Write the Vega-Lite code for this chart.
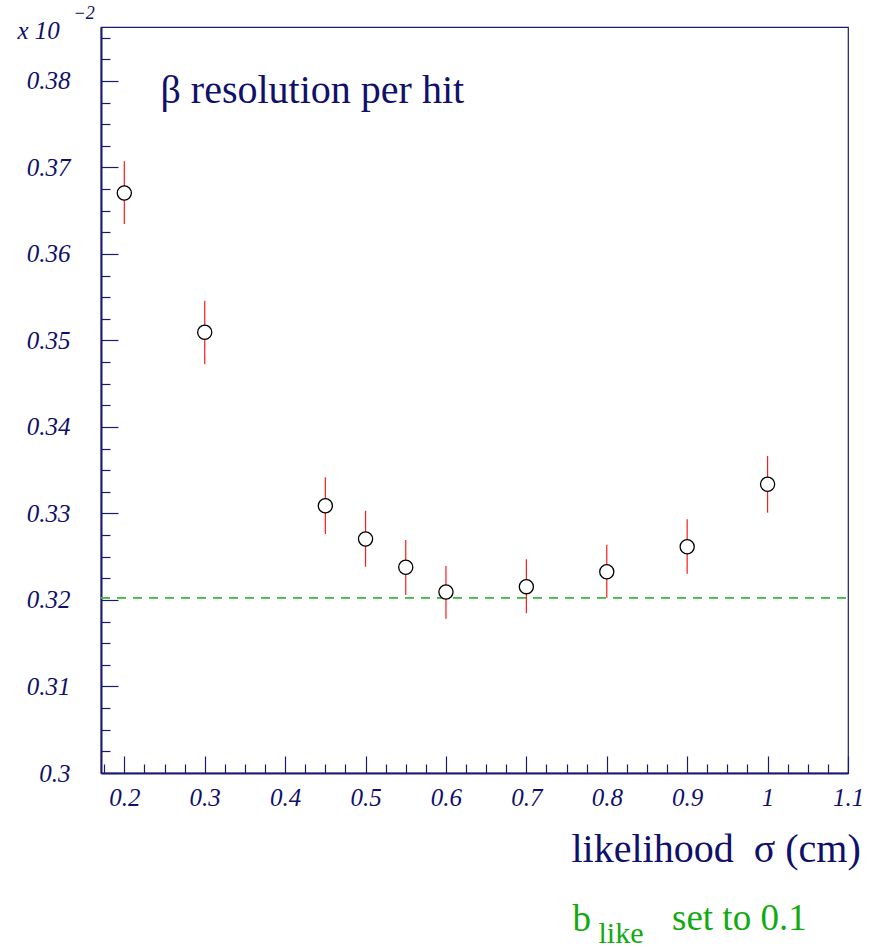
{
  "$schema": "https://vega.github.io/schema/vega-lite/v6.json",
  "width": 747,
  "height": 746,
  "autosize": "none",
  "padding": {"left": 101, "top": 27, "right": 27, "bottom": 174},
  "background": "white",
  "title": {
    "text": "set to 0.1", "orient": "bottom", "anchor": "start", "frame": "group",
    "dx": 571, "offset": -18, "baseline": "alphabetic", "align": "left",
    "font": "Liberation Serif", "fontSize": 37, "fontWeight": "normal", "color": "#11aa11"
  },
  "config": {
    "view": {"stroke": "#1a1a6e", "strokeWidth": 1.2},
    "axis": {"grid": false, "titleFont": "Liberation Serif", "labelFont": "Liberation Serif"}
  },
  "data": {
    "values": [
      {"sigma": 0.2, "beta": 0.36705, "lo": 0.36347, "hi": 0.37072},
      {"sigma": 0.3, "beta": 0.35095, "lo": 0.34725, "hi": 0.3546},
      {"sigma": 0.45, "beta": 0.3309, "lo": 0.32763, "hi": 0.33419},
      {"sigma": 0.5, "beta": 0.32705, "lo": 0.32385, "hi": 0.33032},
      {"sigma": 0.55, "beta": 0.32378, "lo": 0.32058, "hi": 0.32694},
      {"sigma": 0.6, "beta": 0.32092, "lo": 0.31784, "hi": 0.32393},
      {"sigma": 0.7, "beta": 0.32154, "lo": 0.31846, "hi": 0.32471},
      {"sigma": 0.8, "beta": 0.32327, "lo": 0.32027, "hi": 0.32639},
      {"sigma": 0.9, "beta": 0.32616, "lo": 0.32304, "hi": 0.32933},
      {"sigma": 1.0, "beta": 0.33338, "lo": 0.33009, "hi": 0.33665}
    ]
  },
  "resolve": {"axis": {"x": "independent", "y": "independent"}},
  "layer": [
    {
      "mark": {"type": "rule", "color": "#ff1a1a", "strokeWidth": 1.2},
      "encoding": {
        "x": {
          "field": "sigma", "type": "quantitative",
          "scale": {"domain": [0.171, 1.1], "nice": false, "zero": false},
          "axis": {
            "orient": "top", "domain": false, "ticks": false, "labels": false,
            "title": "β resolution per hit", "titleX": 59, "titleY": 75,
            "titleAlign": "left", "titleBaseline": "alphabetic", "titleAngle": 0,
            "titleFontSize": 40, "titleFontWeight": "normal", "titleColor": "#10106a"
          }
        },
        "y": {
          "field": "lo", "type": "quantitative",
          "scale": {"domain": [0.3, 0.38624], "nice": false, "zero": false},
          "axis": {
            "orient": "right", "domain": false, "ticks": false, "labels": false,
            "title": "like", "titleX": -250, "titleY": 915,
            "titleAlign": "left", "titleBaseline": "alphabetic", "titleAngle": 0,
            "titleFontSize": 30, "titleFontWeight": "normal", "titleColor": "#11aa11"
          }
        },
        "y2": {"field": "hi"}
      }
    },
    {
      "mark": {"type": "rule", "color": "#44bb44", "strokeWidth": 1, "strokeDash": [9, 7]},
      "encoding": {
        "x": {
          "datum": 0.171, "type": "quantitative",
          "scale": {"domain": [0.171, 1.1], "nice": false, "zero": false},
          "axis": {
            "orient": "top", "domain": false, "ticks": false, "labels": false,
            "title": "b", "titleX": 471, "titleY": 903,
            "titleAlign": "left", "titleBaseline": "alphabetic", "titleAngle": 0,
            "titleFontSize": 37, "titleFontWeight": "normal", "titleColor": "#11aa11"
          }
        },
        "x2": {"datum": 1.1},
        "y": {
          "datum": 0.32027, "type": "quantitative",
          "scale": {"domain": [0.3, 0.38624], "nice": false, "zero": false},
          "axis": {
            "orient": "right", "domain": false, "ticks": false, "labels": false,
            "title": "−2", "titleX": -775, "titleY": -9,
            "titleAlign": "left", "titleBaseline": "alphabetic", "titleAngle": 0,
            "titleFontSize": 18, "titleFontStyle": "italic", "titleFontWeight": "normal", "titleColor": "#10106a"
          }
        }
      }
    },
    {
      "mark": {"type": "point", "shape": "circle", "filled": true, "fill": "white", "stroke": "black", "strokeWidth": 1.3, "size": 200, "opacity": 1},
      "encoding": {
        "x": {
          "field": "sigma", "type": "quantitative",
          "scale": {"domain": [0.171, 1.1], "nice": false, "zero": false},
          "axis": {
            "orient": "bottom",
            "values": [0.175,0.2,0.225,0.25,0.275,0.3,0.325,0.35,0.375,0.4,0.425,0.45,0.475,0.5,0.525,0.55,0.575,0.6,0.625,0.65,0.675,0.7,0.725,0.75,0.775,0.8,0.825,0.85,0.875,0.9,0.925,0.95,0.975,1,1.025,1.05,1.075,1.1],
            "domainColor": "#1a1a6e", "domainWidth": 2,
            "tickColor": "#1a1a6e", "tickWidth": 1.2,
            "tickSize": {"condition": {"test": "abs(datum.value*10 - round(datum.value*10)) < 1e-6", "value": -17}, "value": -9},
            "labelExpr": "abs(datum.value*10 - round(datum.value*10)) < 1e-6 ? format(datum.value, '~g') : ''",
            "labelFontSize": 25, "labelFontStyle": "italic", "labelColor": "#10106a",
            "labelPadding": 29, "labelBaseline": "top", "labelFlush": false, "labelOverlap": false, "labelBound": false,
            "title": "likelihood\u00a0\u00a0σ (cm)", "titleX": 470, "titleY": 88,
            "titleAlign": "left", "titleBaseline": "alphabetic", "titleAngle": 0,
            "titleFontSize": 40, "titleFontWeight": "normal", "titleColor": "#10106a"
          }
        },
        "y": {
          "field": "beta", "type": "quantitative",
          "scale": {"domain": [0.3, 0.38624], "nice": false, "zero": false},
          "axis": {
            "orient": "left",
            "values": [0.3,0.3025,0.305,0.3075,0.31,0.3125,0.315,0.3175,0.32,0.3225,0.325,0.3275,0.33,0.3325,0.335,0.3375,0.34,0.3425,0.345,0.3475,0.35,0.3525,0.355,0.3575,0.36,0.3625,0.365,0.3675,0.37,0.3725,0.375,0.3775,0.38,0.3825,0.385],
            "domainColor": "#1a1a6e", "domainWidth": 2,
            "tickColor": "#1a1a6e", "tickWidth": 1.2,
            "tickSize": {"condition": {"test": "abs(datum.value*100 - round(datum.value*100)) < 1e-6", "value": -17}, "value": -9},
            "labelExpr": "abs(datum.value*100 - round(datum.value*100)) < 1e-6 ? format(datum.value, '~g') : ''",
            "labelFontSize": 25, "labelFontStyle": "italic", "labelColor": "#10106a",
            "labelPadding": 48, "labelBaseline": "middle", "labelFlush": false, "labelOverlap": false, "labelBound": false,
            "title": "x 10", "titleX": -84, "titleY": 11,
            "titleAlign": "left", "titleBaseline": "alphabetic", "titleAngle": 0,
            "titleFontSize": 25, "titleFontStyle": "italic", "titleFontWeight": "normal", "titleColor": "#10106a"
          }
        }
      }
    }
  ]
}
